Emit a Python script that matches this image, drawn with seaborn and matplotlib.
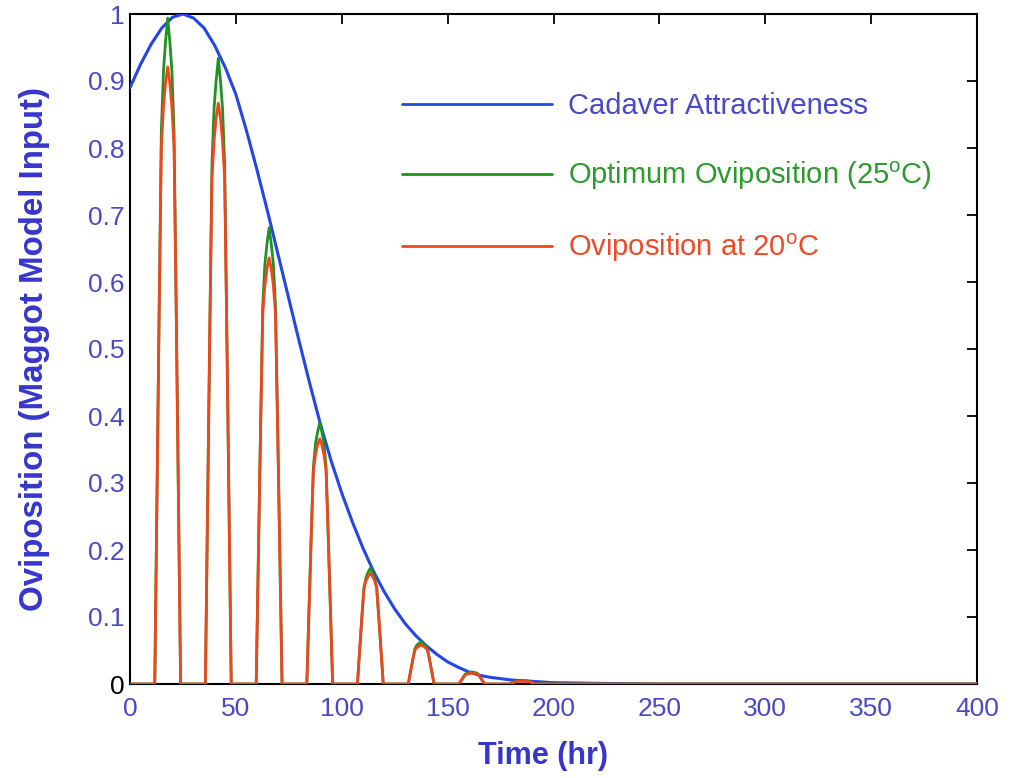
import numpy as np
import pandas as pd
import matplotlib
matplotlib.use("Agg")
import matplotlib.pyplot as plt
import seaborn as sns

# Cadaver attractiveness over time (hr)
ATTRACT_T = [0, 5, 10, 15, 20, 25, 30, 35, 40, 45, 50, 55, 60, 65, 70, 75, 80,
             85, 90, 95, 100, 105, 110, 115, 120, 125, 130, 135, 140, 145, 150,
             155, 160, 165, 170, 175, 180, 185, 190, 195, 200, 220, 250, 400]
ATTRACT_V = [0.89, 0.925, 0.955, 0.979, 0.995, 1.0, 0.994, 0.979, 0.953, 0.92,
             0.88, 0.826, 0.767, 0.705, 0.64, 0.575, 0.51, 0.447, 0.387, 0.333,
             0.285, 0.242, 0.203, 0.168, 0.138, 0.112, 0.09, 0.072, 0.057,
             0.044, 0.033, 0.025, 0.018, 0.013, 0.01, 0.008, 0.006, 0.005,
             0.004, 0.003, 0.002, 0.001, 0.0, 0.0]

# Daily oviposition pulses: centre time and peak height of each pulse
PULSE_CENTRES = [17.8, 41.7, 65.7, 89.6, 113.5, 137.5, 161.4, 185.3]
OPTIMUM_PEAKS = [0.994, 0.934, 0.681, 0.39, 0.173, 0.063, 0.018, 0.005]
AT20C_PEAKS = [0.921, 0.867, 0.636, 0.366, 0.165, 0.058, 0.016, 0.004]

# Pulse profile: hours from the pulse centre and fraction of the peak
PULSE_OFFSETS = [-6.1, -5.0, -4.0, -3.0, -2.0, -1.0, 0.0,
                 1.0, 2.0, 3.0, 4.0, 5.0, 6.1]
OPTIMUM_SHAPE = [0.0, 0.30, 0.57, 0.83, 0.92, 0.965, 1.0,
                 0.965, 0.92, 0.83, 0.57, 0.30, 0.0]
AT20C_SHAPE = [0.0, 0.32, 0.61, 0.87, 0.935, 0.975, 1.0,
               0.975, 0.935, 0.87, 0.61, 0.32, 0.0]

T_END = 400

X_TICKS = [0, 50, 100, 150, 200, 250, 300, 350, 400]
Y_TICKS = [0, 0.1, 0.2, 0.3, 0.4, 0.5, 0.6, 0.7, 0.8, 0.9, 1.0]
Y_TICK_LABELS = ["0", "0.1", "0.2", "0.3", "0.4", "0.5", "0.6", "0.7",
                 "0.8", "0.9", "1"]


def pulse_train(centres, peaks, shape):
    t = [0.0]
    v = [0.0]
    for c, p in zip(centres, peaks):
        for off, frac in zip(PULSE_OFFSETS, shape):
            t.append(c + off)
            v.append(p * frac)
    t.append(T_END)
    v.append(0.0)
    return pd.DataFrame({"t": t, "v": v})


attract = pd.DataFrame({"t": ATTRACT_T, "v": ATTRACT_V})
optimum = pulse_train(PULSE_CENTRES, OPTIMUM_PEAKS, OPTIMUM_SHAPE)
at20c = pulse_train(PULSE_CENTRES, AT20C_PEAKS, AT20C_SHAPE)

sns.set_style("white")
plt.rcParams["font.family"] = ["Liberation Sans", "DejaVu Sans"]
plt.rcParams["mathtext.fontset"] = "custom"
plt.rcParams["mathtext.rm"] = "Liberation Sans"

BLUE = "#2446e6"
GREEN = "#1f9322"
RED = "#f0461e"
TICK_BLUE = "#4a4ac6"
LABEL_BLUE = "#3636cc"

fig = plt.figure(figsize=(10.11, 7.78), dpi=100)
ax = fig.add_axes([130 / 1011, 1 - 684 / 778, 847 / 1011, 670 / 778])

sns.lineplot(data=attract, x="t", y="v", ax=ax, color=BLUE, lw=2.2,
             estimator=None, sort=False, label="Cadaver Attractiveness",
             zorder=3)
sns.lineplot(data=optimum, x="t", y="v", ax=ax, color=GREEN, lw=2.0,
             estimator=None, sort=False,
             label="Optimum Oviposition (25$^{\\mathrm{o}}$C)", zorder=3)
sns.lineplot(data=at20c, x="t", y="v", ax=ax, color=RED, lw=2.0,
             estimator=None, sort=False,
             label="Oviposition at 20$^{\\mathrm{o}}$C", zorder=3)

ax.set_xlim(0, 400)
ax.set_ylim(0, 1)
ax.set_xticks(X_TICKS)
ax.set_xticklabels([str(x) for x in X_TICKS])
ax.set_yticks(Y_TICKS)
ax.set_yticklabels(Y_TICK_LABELS)

ax.tick_params(axis="both", which="both", direction="in", length=7,
               width=1.3, colors="black", top=True, right=True,
               labelsize=19, labelcolor=TICK_BLUE)
ax.tick_params(axis="x", pad=9)
ax.tick_params(axis="y", pad=4)
ax.get_yticklabels()[0].set_color("black")

for side in ["left", "right", "top", "bottom"]:
    ax.spines[side].set_visible(True)
    ax.spines[side].set_color("black")
    ax.spines[side].set_linewidth(1.5)

ax.set_xlabel("Time (hr)", fontsize=22, fontweight="bold", color=LABEL_BLUE)
ax.set_ylabel("Oviposition (Maggot Model Input)", fontsize=23.8,
              fontweight="bold", color=LABEL_BLUE)
ax.xaxis.set_label_coords(0.488, -0.085)
ax.yaxis.set_label_coords(-0.095, 0.5)

leg = ax.legend(loc="upper left", bbox_to_anchor=(0.321, 0.883),
                frameon=False, fontsize=21, handlelength=5.15,
                handletextpad=0.55, labelspacing=1.35, borderpad=0,
                borderaxespad=0)
for text, col in zip(leg.get_texts(), [TICK_BLUE, "#2e9a2e", "#ee4a28"]):
    text.set_color(col)
for line in leg.get_lines():
    line.set_linewidth(2.0)

fig.savefig("out.png", dpi=100)
